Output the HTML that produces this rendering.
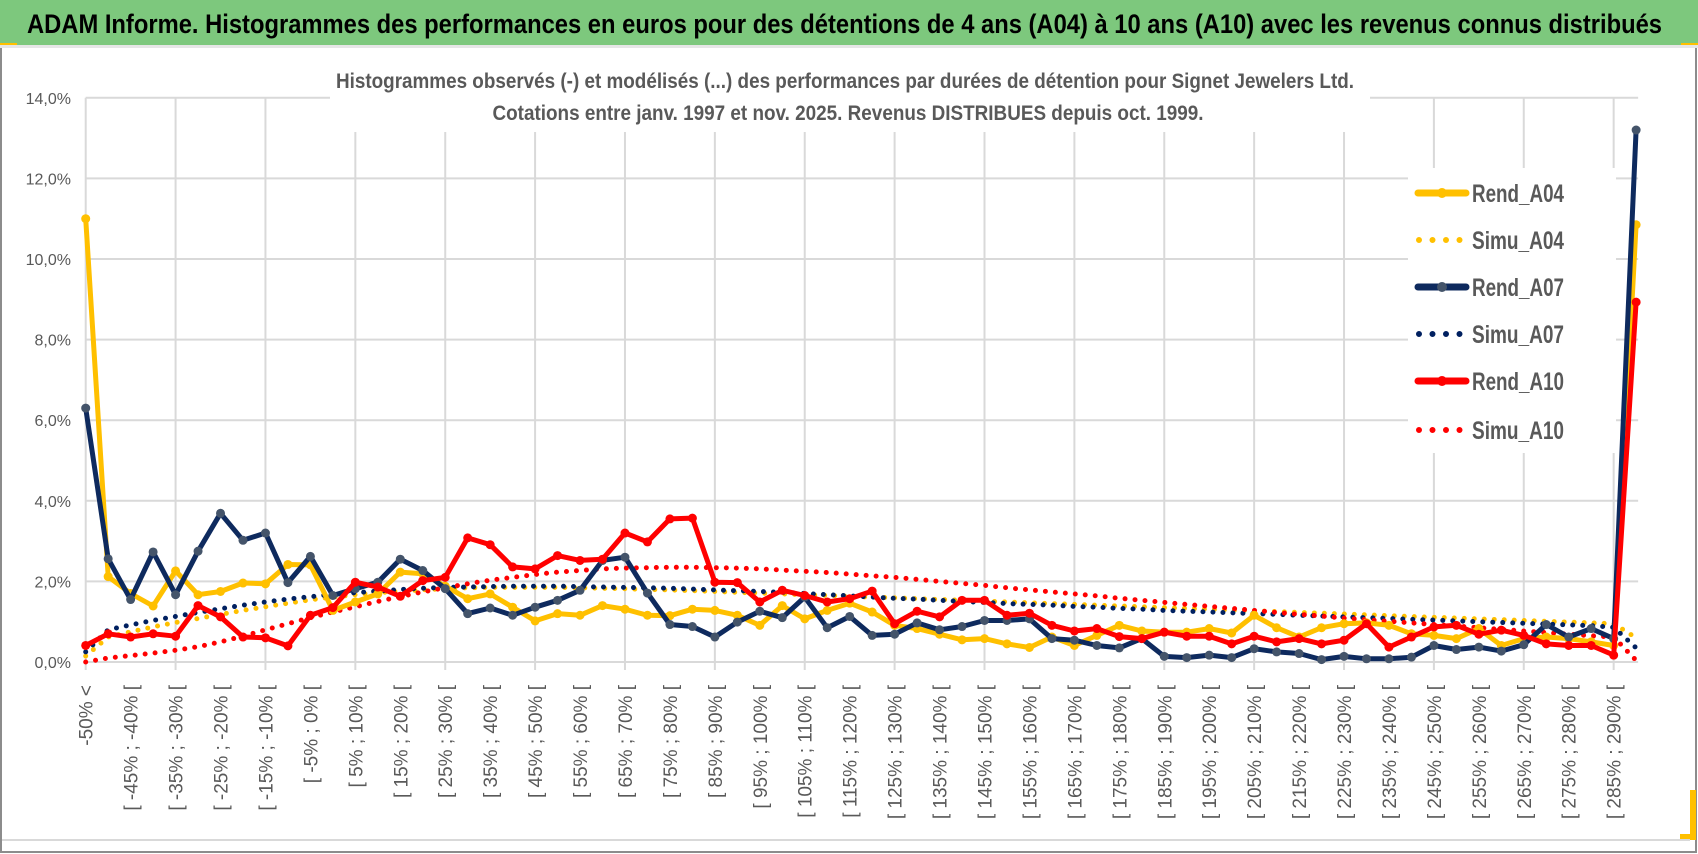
<!DOCTYPE html>
<html><head><meta charset="utf-8"><style>
body{margin:0;background:#fff;}
svg{display:block;font-family:"Liberation Sans Narrow","Liberation Sans",sans-serif;}
</style></head><body>
<svg id="chart" width="1698" height="854" viewBox="0 0 1698 854" xmlns="http://www.w3.org/2000/svg">
<rect x="0" y="0" width="1698" height="854" fill="#fff"/>
<rect x="1" y="1" width="1695" height="851" fill="none" stroke="#8c8c8c" stroke-width="2"/>
<rect x="0" y="0" width="1698" height="45" fill="#7DC87D"/>
<rect x="0" y="43" width="17" height="4" fill="#FFC000"/>
<rect x="1681" y="43" width="17" height="4" fill="#FFC000"/>
<rect x="0" y="45" width="1698" height="3" fill="#e6e6e6"/>
<rect x="1690" y="790" width="6" height="50" fill="#FFC000"/>
<rect x="1680" y="834" width="16" height="6" fill="#FFC000"/>
<line x1="2" y1="840" x2="1690" y2="840" stroke="#d9d9d9" stroke-width="2"/>
<text x="27" y="33" font-size="27" font-weight="bold" fill="#000" textLength="1635" lengthAdjust="spacingAndGlyphs">ADAM Informe. Histogrammes des performances en euros pour des détentions de 4 ans (A04) à 10 ans (A10) avec les revenus connus distribués</text>
<g id="grid"></g>
<rect x="330" y="62" width="1040" height="70" fill="#fff"/>
<text x="845" y="88" font-size="21" font-weight="bold" fill="#595959" text-anchor="middle" textLength="1018" lengthAdjust="spacingAndGlyphs">Histogrammes observés (-) et modélisés (...) des performances par durées de détention pour Signet Jewelers Ltd.</text>
<text x="848" y="120" font-size="21" font-weight="bold" fill="#595959" text-anchor="middle" textLength="711" lengthAdjust="spacingAndGlyphs">Cotations entre janv. 1997 et nov. 2025. Revenus DISTRIBUES depuis oct. 1999.</text>
<g id="yticks"></g>
<g id="xticks"></g>
<g id="series"></g>
<g id="legend"></g>
</svg>
<script>
const yTickValues = [0,2,4,6,8,10,12,14];
const rendA04 = [11.0,2.12,1.7,1.39,2.26,1.67,1.75,1.96,1.94,2.42,2.41,1.28,1.49,1.69,2.23,2.19,1.88,1.57,1.69,1.36,1.02,1.2,1.16,1.4,1.31,1.16,1.15,1.31,1.28,1.16,0.91,1.4,1.07,1.28,1.46,1.24,0.91,0.83,0.69,0.55,0.58,0.45,0.36,0.62,0.41,0.66,0.91,0.77,0.74,0.74,0.83,0.72,1.16,0.85,0.62,0.85,0.95,0.97,0.91,0.7,0.66,0.58,0.83,0.41,0.58,0.62,0.58,0.5,0.41,10.85];
const rendA07 = [6.3,2.56,1.55,2.73,1.67,2.75,3.69,3.02,3.2,1.97,2.62,1.65,1.82,1.98,2.55,2.27,1.82,1.2,1.34,1.16,1.36,1.53,1.78,2.52,2.6,1.71,0.93,0.88,0.62,0.99,1.26,1.1,1.61,0.85,1.13,0.66,0.69,0.97,0.8,0.88,1.03,1.03,1.07,0.58,0.54,0.41,0.35,0.58,0.14,0.11,0.17,0.11,0.33,0.25,0.21,0.06,0.14,0.08,0.08,0.12,0.41,0.31,0.37,0.27,0.43,0.93,0.62,0.83,0.58,13.2];
const rendA10 = [0.41,0.7,0.62,0.7,0.64,1.4,1.12,0.62,0.6,0.4,1.16,1.35,1.98,1.86,1.63,2.02,2.1,3.08,2.91,2.36,2.31,2.64,2.52,2.55,3.2,2.98,3.55,3.57,1.98,1.97,1.49,1.78,1.65,1.49,1.57,1.76,0.95,1.26,1.12,1.53,1.53,1.16,1.21,0.91,0.77,0.83,0.63,0.58,0.74,0.64,0.64,0.45,0.64,0.5,0.58,0.45,0.54,0.95,0.37,0.62,0.87,0.91,0.69,0.79,0.66,0.45,0.41,0.41,0.17,8.93];
const simuA04 = [0.15,0.62,0.75,0.87,0.98,1.08,1.18,1.28,1.37,1.46,1.54,1.61,1.67,1.72,1.76,1.79,1.82,1.84,1.85,1.85,1.85,1.85,1.84,1.83,1.82,1.8,1.79,1.77,1.75,1.73,1.71,1.69,1.67,1.65,1.63,1.61,1.59,1.57,1.55,1.53,1.51,1.49,1.47,1.45,1.43,1.41,1.39,1.37,1.35,1.33,1.31,1.29,1.27,1.25,1.23,1.21,1.19,1.17,1.15,1.13,1.11,1.09,1.07,1.05,1.03,1.01,0.99,0.97,0.95,0.6];
const simuA07 = [0.25,0.8,0.92,1.03,1.13,1.23,1.32,1.41,1.49,1.56,1.62,1.68,1.72,1.76,1.8,1.83,1.85,1.86,1.87,1.88,1.88,1.88,1.87,1.86,1.85,1.84,1.83,1.81,1.79,1.77,1.75,1.73,1.7,1.67,1.64,1.61,1.58,1.56,1.53,1.5,1.48,1.45,1.43,1.41,1.38,1.36,1.33,1.31,1.28,1.26,1.24,1.22,1.2,1.18,1.16,1.14,1.12,1.1,1.08,1.06,1.04,1.02,1.0,0.98,0.96,0.94,0.92,0.9,0.86,0.35];
const simuA10 = [0.0,0.1,0.16,0.22,0.29,0.38,0.5,0.64,0.8,0.95,1.1,1.24,1.37,1.5,1.62,1.74,1.84,1.94,2.03,2.1,2.17,2.23,2.27,2.31,2.33,2.34,2.35,2.35,2.34,2.33,2.31,2.28,2.25,2.22,2.18,2.14,2.1,2.05,2.0,1.95,1.9,1.84,1.79,1.74,1.69,1.64,1.58,1.53,1.48,1.43,1.38,1.33,1.28,1.23,1.18,1.14,1.09,1.05,1.01,0.97,0.93,0.89,0.85,0.81,0.77,0.73,0.69,0.65,0.62,0.04];
const nCat = 70;
const NS="http://www.w3.org/2000/svg";
const X0=85.7, DX=22.47, Y0=662, PY=40.3;
function xPos(i){return X0+i*DX;}
function yPos(v){return Y0-v*PY;}
function catLabel(i){
  if(i===0) return "-50% <";
  const a=-50+(i-1)*5; return "[ "+a+"% ; "+(a+5)+"% [";
}
function mk(tag,attrs,parent){const e=document.createElementNS(NS,tag);for(const k in attrs)e.setAttribute(k,attrs[k]);parent.appendChild(e);return e;}
const grid=document.getElementById('grid');
const xEnd=xPos(nCat-1)+2;
yTickValues.forEach(v=>{
  const l=mk('line',{x1:X0,x2:xEnd,y1:yPos(v),y2:yPos(v),stroke:'#d9d9d9','stroke-width':2},grid);
  
  
  const t=mk('text',{x:71,y:yPos(v)+6,'font-size':16,fill:'#595959','text-anchor':'end','font-family':'Liberation Sans, sans-serif'},document.getElementById('yticks'));
  t.textContent=v.toFixed(1).replace('.',',')+'%';
  
  
});
for(let i=0;i<nCat;i+=4){
  const l=mk('line',{x1:xPos(i),x2:xPos(i),y1:yPos(14),y2:Y0+8,stroke:'#d9d9d9','stroke-width':2},grid);
  
  
}
const xt=document.getElementById('xticks');
for(let i=0;i<nCat;i+=2){
  const x=xPos(i)+7, y=685;
  const t=mk('text',{x:x,y:y,'font-size':19,fill:'#595959','text-anchor':'end','font-family':'Liberation Sans, sans-serif',transform:`rotate(-90 ${x} ${y})`},xt);
  t.textContent=catLabel(i);
  
  
}
const ser=document.getElementById('series');
function dotted(data,color,name){
  const d=data.map((v,i)=>(i?'L':'M')+xPos(i).toFixed(1)+' '+yPos(v).toFixed(1)).join(' ');
  const p=mk('path',{d:d,fill:'none',stroke:color,'stroke-width':5,'stroke-linecap':'round','stroke-dasharray':'0 10'},ser);
  
  
}
function solid(data,color,mcolor,name){
  const g=mk('g',{},ser);
  
  
  const d=data.map((v,i)=>(i?'L':'M')+xPos(i).toFixed(1)+' '+yPos(v).toFixed(1)).join(' ');
  mk('path',{d:d,fill:'none',stroke:color,'stroke-width':5,'stroke-linejoin':'round'},g);
  data.forEach((v,i)=>{
    const c=mk('circle',{cx:xPos(i),cy:yPos(v),r:4.5,fill:mcolor},g);
    
    
  });
}
dotted(simuA04,'#FFC000','simu-a04-line');
dotted(simuA07,'#002060','simu-a07-line');
dotted(simuA10,'#FF0000','simu-a10-line');
solid(rendA04,'#FFC000','#FFC000','rend-a04-line');
solid(rendA07,'#0E2A5E','#44546A','rend-a07-line');
solid(rendA10,'#FF0000','#FF0000','rend-a10-line');
const leg=document.getElementById('legend');
mk('rect',{x:1408,y:168,width:208,height:285,fill:'#fff'},leg);
const legendNames=['Rend_A04','Simu_A04','Rend_A07','Simu_A07','Rend_A10','Simu_A10'];
const legendColors=['#FFC000','#FFC000','#0E2A5E','#002060','#FF0000','#FF0000'];
const legendY=[193,240,287,334,381,430];
legendNames.forEach((n,k)=>{
  const g=mk('g',{},leg);
  
  
  const y=legendY[k];
  if(k%2===0){
    mk('line',{x1:1418,x2:1466,y1:y,y2:y,stroke:legendColors[k],'stroke-width':7,'stroke-linecap':'round'},g);
    mk('circle',{cx:1442,cy:y,r:5,fill:k===2?'#44546A':legendColors[k]},g);
  } else {
    mk('line',{x1:1419,x2:1460,y1:y,y2:y,stroke:legendColors[k],'stroke-width':6,'stroke-linecap':'round','stroke-dasharray':'0 13.5'},g);
  }
  const t=mk('text',{x:1472,y:y+9,'font-size':25,'font-weight':'bold',fill:'#595959',textLength:92,lengthAdjust:'spacingAndGlyphs'},g);
  t.textContent=n;
});
</script>
</body></html>
